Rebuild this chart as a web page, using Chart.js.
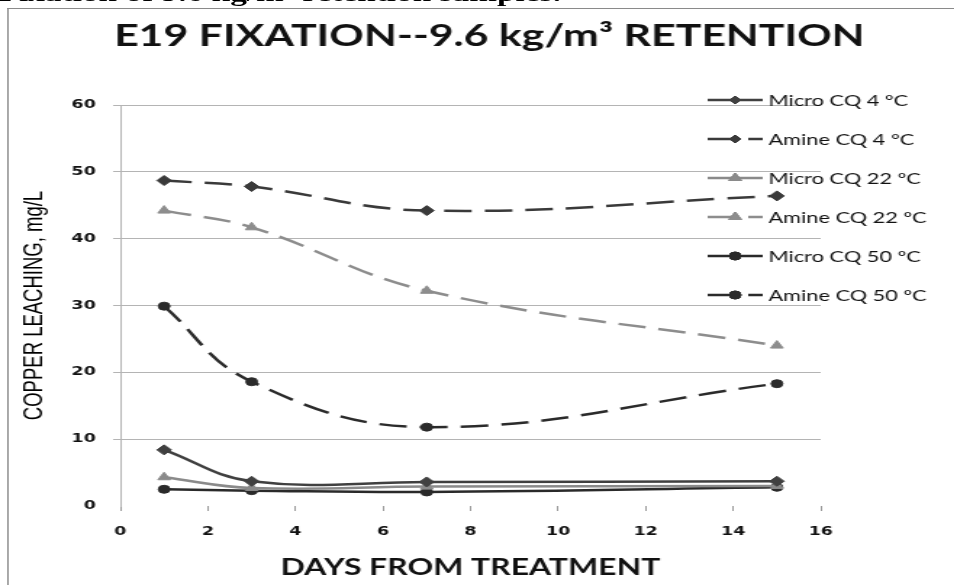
<!DOCTYPE html>
<html>
<head>
<meta charset="utf-8">
<script src="https://cdn.jsdelivr.net/npm/chart.js"></script>
<style>
  html, body { margin: 0; padding: 0; background: #fff; overflow: hidden; }
  #page { position: absolute; left: 0; top: 0; width: 658px; height: 585px; transform: scaleX(1.45); transform-origin: 0 0; }
  #caption { position: absolute; left: -1px; top: -17px; font: bold 23px "Liberation Serif", serif; line-height: 22px; white-space: nowrap; color: #000; }
  #frame { position: absolute; left: 5px; top: 8px; right: -10px; bottom: -10px; border-left: 1px solid #8a8a8a; border-top: 1.5px solid #8a8a8a; background: #fff; }
  #chart { position: absolute; left: 0; top: 0; }
</style>
</head>
<body>
<div id="page">
  <div id="caption">Fixation of 9.6 kg/m³ retention samples.</div>
  <div id="frame"></div>
  <canvas id="chart" width="658" height="585"></canvas>
</div>
<script>
// days after treatment
const days = [1, 3, 7, 15];

// copper leaching, mg/L
const microCQ4 = [8.4, 3.7, 3.6, 3.7];
const amineCQ4 = [48.7, 47.8, 44.2, 46.4];
const microCQ22 = [4.3, 2.7, 2.9, 3.0];
const amineCQ22 = [44.2, 41.7, 32.2, 24.0];
const microCQ50 = [2.5, 2.3, 2.1, 2.8];
const amineCQ50 = [29.9, 18.6, 11.8, 18.3];

const seriesNames = ["Micro CQ 4 ºC", "Amine CQ 4 ºC", "Micro CQ 22 ºC", "Amine CQ 22 ºC", "Micro CQ 50 ºC", "Amine CQ 50 ºC"];
const xTickRange = { min: 0, max: 16, step: 2 };
const yTickRange = { min: 0, max: 60, step: 10 };

const toPoints = vals => vals.map((v, i) => ({ x: days[i], y: v }));
const DASH = [19, 9];

function series(label, vals, color, style, radius, dashed) {
    return {
        label: label,
        data: toPoints(vals),
        borderColor: color,
        backgroundColor: color,
        borderWidth: 2.5,
        borderDash: dashed ? DASH : [],
        pointStyle: style,
        pointRadius: radius,
        pointBorderWidth: 1,
        tension: 0.4,
        fill: false
    };
}

// legend drawn over the plot, like the original
const sideLegend = {
    id: "sideLegend",
    afterDraw(chart) {
        const ctx = chart.ctx;
        const x0 = 488, x1 = 526, tx = 530, y0 = 100, step = 39;
        chart.data.datasets.forEach((ds, i) => {
            const y = y0 + i * step;
            ctx.save();
            ctx.strokeStyle = ds.borderColor;
            ctx.lineWidth = ds.borderWidth;
            ctx.setLineDash(ds.borderDash);
            ctx.beginPath();
            ctx.moveTo(x0, y);
            ctx.lineTo(x1, y);
            ctx.stroke();
            ctx.setLineDash([]);
            ctx.lineWidth = 1;
            Chart.helpers.drawPoint(ctx, {
                pointStyle: ds.pointStyle,
                radius: ds.pointStyle === "rectRot" ? 4 : ds.pointRadius,
                rotation: 0,
                borderWidth: 1
            }, (x0 + x1) / 2, y);
            ctx.fillStyle = ds.backgroundColor;
            ctx.fill();
            ctx.stroke();
            ctx.fillStyle = "#111";
            ctx.font = "15px Lato";
            ctx.textBaseline = "middle";
            ctx.fillText(ds.label, tx, y + 1);
            ctx.restore();
        });
    }
};

new Chart(document.getElementById("chart"), {
    type: "line",
    data: {
        datasets: [
            series(seriesNames[0], microCQ4, "#404040", "rectRot", 5, false),
            series(seriesNames[1], amineCQ4, "#3a3a3a", "rectRot", 5, true),
            series(seriesNames[2], microCQ22, "#8a8a8a", "triangle", 5, false),
            series(seriesNames[3], amineCQ22, "#8d8d8d", "triangle", 5, true),
            series(seriesNames[4], microCQ50, "#2a2a2a", "circle", 4, false),
            series(seriesNames[5], amineCQ50, "#2b2b2b", "circle", 4, true)
        ]
    },
    options: {
        responsive: false,
        animation: false,
        layout: { padding: { left: 17, right: 0, top: 0, bottom: 0 } },
        plugins: {
            legend: { display: false },
            tooltip: { enabled: false },
            title: {
                display: true,
                text: "E19 FIXATION--9.6 kg/m³ RETENTION",
                color: "#111",
                font: { family: "Lato", weight: "bold", size: 29.5, lineHeight: 1.2 },
                padding: { top: 19, bottom: 50.6 }
            }
        },
        scales: {
            x: {
                type: "linear",
                min: xTickRange.min,
                max: xTickRange.max,
                ticks: { stepSize: xTickRange.step, padding: 14, color: "#111", font: { family: "DejaVu Sans", weight: "bold", size: 12 } },
                grid: { drawOnChartArea: false, drawTicks: true, tickLength: 5, color: "#9a9a9a" },
                border: { display: false },
                title: {
                    display: true,
                    text: "DAYS FROM TREATMENT",
                    color: "#111",
                    font: { family: "Lato", weight: "bold", size: 22, lineHeight: 1.2 },
                    padding: { top: 0, bottom: 4 }
                },
                afterFit: s => { s.height = 79; }
            },
            y: {
                min: yTickRange.min,
                max: yTickRange.max,
                ticks: { stepSize: yTickRange.step, padding: 12, color: "#111", font: { family: "DejaVu Sans", weight: "bold", size: 12 } },
                grid: {
                    color: c => (c.tick && c.tick.value === 0 ? "rgba(0,0,0,0)" : "#b4b4b4"),
                    tickLength: 5,
                    lineWidth: 1
                },
                border: { display: true, color: "#b4b4b4", width: 1 },
                title: {
                    display: true,
                    text: "COPPER LEACHING, mg/L",
                    color: "#000",
                    font: { family: "Liberation Sans", size: 18.5, lineHeight: 1.2 },
                    padding: { top: -4, bottom: 0 }
                },
                afterFit: s => { s.width = 66; }
            },
            spacer: {
                type: "linear",
                position: "right",
                display: true,
                ticks: { display: false },
                grid: { display: false },
                border: { display: false },
                afterFit: s => { s.width = 92; }
            }
        }
    },
    plugins: [sideLegend]
});
</script>
</body>
</html>
